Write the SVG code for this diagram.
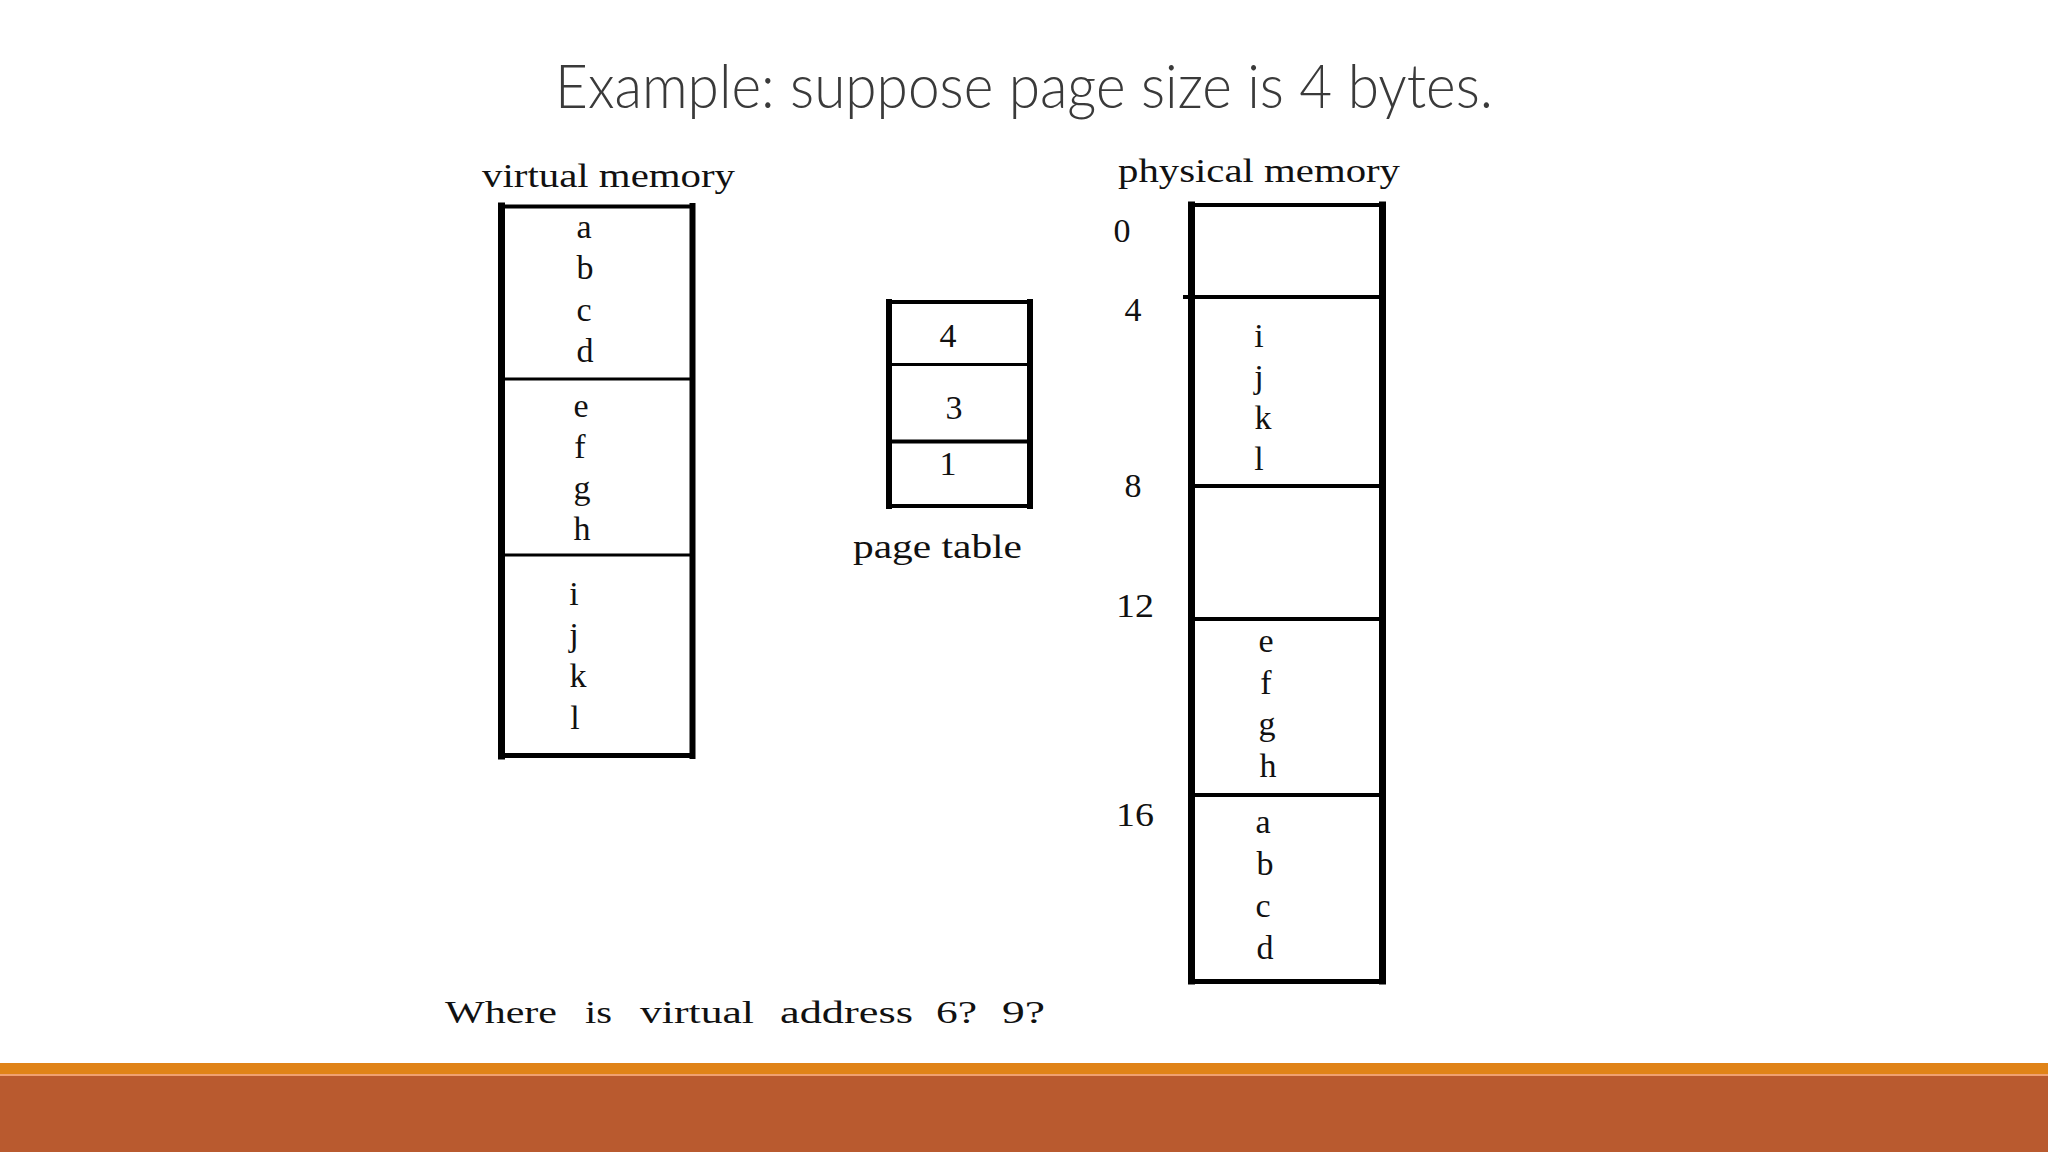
<svg xmlns="http://www.w3.org/2000/svg" width="2048" height="1152" viewBox="0 0 2048 1152">
<style>
.t{font-family:"Liberation Serif","Times New Roman",serif;font-size:34px;fill:#111;}
.c{text-anchor:middle;}
.lbl{font-family:"Liberation Serif","Times New Roman",serif;font-size:34px;fill:#111;}
.q{font-family:"Liberation Serif","Times New Roman",serif;font-size:32px;fill:#111;}
.b{stroke:#000;fill:none;stroke-linecap:square;}
.title{font-family:Lato,"Open Sans","Liberation Sans",sans-serif;font-weight:300;font-size:62px;fill:#3a3a3a;}
</style>
<rect x="0" y="0" width="2048" height="1152" fill="#ffffff"/>
<text class="title" x="555" y="108" textLength="938" lengthAdjust="spacingAndGlyphs">Example: suppose page size is 4 bytes.</text>

<g id="virtual-memory">
<text class="lbl" x="482" y="187" textLength="253" lengthAdjust="spacingAndGlyphs">virtual memory</text>
<line class="b" x1="501.5" y1="206" x2="501.5" y2="756" stroke-width="7"/>
<line class="b" x1="692.5" y1="206" x2="692.5" y2="756" stroke-width="6"/>
<line class="b" x1="502" y1="206.5" x2="692" y2="206.5" stroke-width="4"/>
<line class="b" x1="502" y1="755.5" x2="692" y2="755.5" stroke-width="5"/>
<line class="b" x1="502" y1="379" x2="692" y2="379" stroke-width="3"/>
<line class="b" x1="502" y1="555" x2="692" y2="555" stroke-width="3"/>
<g class="t c">
<text x="584" y="238">a</text><text x="585" y="279">b</text><text x="584" y="321">c</text><text x="585" y="362">d</text>
<text x="581" y="417">e</text><text x="580" y="458">f</text><text x="582" y="499">g</text><text x="582" y="540">h</text>
<text x="574" y="605">i</text><text x="574" y="646">j</text><text x="578" y="687">k</text><text x="575" y="729">l</text>
</g>
</g>

<g id="page-table">
<line class="b" x1="889" y1="302" x2="889" y2="506" stroke-width="6"/>
<line class="b" x1="1030" y1="302" x2="1030" y2="506" stroke-width="6"/>
<line class="b" x1="889" y1="302" x2="1030" y2="302" stroke-width="4"/>
<line class="b" x1="889" y1="506" x2="1030" y2="506" stroke-width="4"/>
<line class="b" x1="889" y1="364.5" x2="1030" y2="364.5" stroke-width="3"/>
<line class="b" x1="889" y1="441.5" x2="1030" y2="441.5" stroke-width="4"/>
<g class="t c">
<text x="948" y="347">4</text><text x="954" y="419">3</text><text x="948" y="475">1</text>
</g>
<text class="lbl" x="853" y="558" textLength="169" lengthAdjust="spacingAndGlyphs">page table</text>
</g>

<g id="physical-memory">
<text class="lbl" x="1118" y="182" textLength="282" lengthAdjust="spacingAndGlyphs">physical memory</text>
<line class="b" x1="1191.5" y1="205" x2="1191.5" y2="981" stroke-width="7"/>
<line class="b" x1="1382.5" y1="205" x2="1382.5" y2="981" stroke-width="7"/>
<line class="b" x1="1192" y1="205" x2="1382" y2="205" stroke-width="4"/>
<line class="b" x1="1192" y1="981.5" x2="1382" y2="981.5" stroke-width="5"/>
<line class="b" x1="1185" y1="297" x2="1382" y2="297" stroke-width="4"/>
<line class="b" x1="1192" y1="486" x2="1382" y2="486" stroke-width="4"/>
<line class="b" x1="1192" y1="619" x2="1382" y2="619" stroke-width="4"/>
<line class="b" x1="1192" y1="795" x2="1382" y2="795" stroke-width="4"/>
<g class="t c">
<text x="1122" y="242">0</text><text x="1133" y="321">4</text><text x="1133" y="497">8</text>
<text x="1135" y="617" textLength="38" lengthAdjust="spacingAndGlyphs">12</text><text x="1135" y="826" textLength="38" lengthAdjust="spacingAndGlyphs">16</text>
<text x="1259" y="347">i</text><text x="1259" y="388">j</text><text x="1263" y="429">k</text><text x="1259" y="470">l</text>
<text x="1266" y="652">e</text><text x="1266" y="694">f</text><text x="1267" y="735">g</text><text x="1268" y="777">h</text>
<text x="1263" y="833">a</text><text x="1265" y="875">b</text><text x="1263" y="917">c</text><text x="1265" y="959">d</text>
</g>
</g>

<g id="question" class="q">
<text x="445" y="1023" textLength="112" lengthAdjust="spacingAndGlyphs">Where</text>
<text x="585" y="1023" textLength="27" lengthAdjust="spacingAndGlyphs">is</text>
<text x="640" y="1023" textLength="114" lengthAdjust="spacingAndGlyphs">virtual</text>
<text x="780" y="1023" textLength="133" lengthAdjust="spacingAndGlyphs">address</text>
<text x="936" y="1023" textLength="41" lengthAdjust="spacingAndGlyphs">6?</text>
<text x="1002" y="1023" textLength="43" lengthAdjust="spacingAndGlyphs">9?</text>
</g>

<g id="connectors"></g>

<g id="footer">
<rect x="0" y="1063" width="2048" height="11" fill="#E08318"/>
<rect x="0" y="1074" width="2048" height="2" fill="#F0A070"/>
<rect x="0" y="1076" width="2048" height="76" fill="#B95A2F"/>
</g>
</svg>
